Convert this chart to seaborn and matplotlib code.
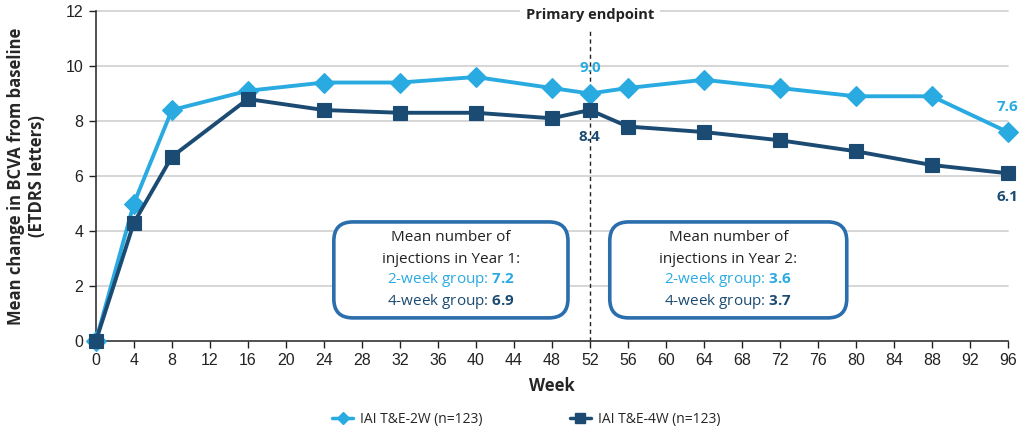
import matplotlib
matplotlib.use("Agg")
import matplotlib.pyplot as plt
import seaborn as sns
import pandas as pd
from matplotlib.patches import FancyBboxPatch
from matplotlib.lines import Line2D

weeks = [0, 4, 8, 16, 24, 32, 40, 48, 52, 56, 64, 72, 80, 88, 96]
vals_2w = [0.0, 5.0, 8.4, 9.1, 9.4, 9.4, 9.6, 9.2, 9.0, 9.2, 9.5, 9.2, 8.9, 8.9, 7.6]
vals_4w = [0.0, 4.3, 6.7, 8.8, 8.4, 8.3, 8.3, 8.1, 8.4, 7.8, 7.6, 7.3, 6.9, 6.4, 6.1]
series_names = ["IAI T&E-2W (n=123)", "IAI T&E-4W (n=123)"]
x_ticks = list(range(0, 97, 4))
y_ticks = list(range(0, 13, 2))

C_LIGHT = "#29abe2"
C_DARK = "#1b4b72"
C_BOX = "#2a6ead"

df = pd.DataFrame({
    "Week": weeks * 2,
    "Value": vals_2w + vals_4w,
    "Group": [series_names[0]] * len(weeks) + [series_names[1]] * len(weeks),
})

sns.set_theme(style="white")
plt.rcParams["font.family"] = ["Liberation Sans", "DejaVu Sans"]
plt.rcParams["mathtext.fontset"] = "custom"
plt.rcParams["mathtext.bf"] = "Open Sans:bold"
plt.rcParams["mathtext.rm"] = "Open Sans"

fig = plt.figure(figsize=(10.2, 4.33), dpi=100)
ax = fig.add_axes([0.094, 0.2125, 0.894, 0.762])

for y in y_ticks[1:]:
    ax.axhline(y, color="#cfcfcf", lw=1.2, zorder=0, xmin=0, xmax=1.0)

sns.lineplot(data=df, x="Week", y="Value", hue="Group", style="Group",
             palette={series_names[0]: C_LIGHT, series_names[1]: C_DARK},
             markers={series_names[0]: "D", series_names[1]: "s"},
             dashes=False, linewidth=2.8, markersize=10, markeredgewidth=0.8,
             legend=False, ax=ax, zorder=3, clip_on=False)
for ln in ax.lines:
    ln.set_markeredgecolor(ln.get_color())
    ln.set_clip_on(False)

ax.set_xlim(0, 96)
ax.set_ylim(0, 12)
ax.set_xticks(x_ticks)
ax.set_yticks(y_ticks)
ax.tick_params(axis="both", labelsize=11.5, colors="#222222", length=5, width=1,
               direction="out", bottom=True, left=True, pad=4)
for s in ["top", "right"]:
    ax.spines[s].set_visible(False)
for s in ["left", "bottom"]:
    ax.spines[s].set_color("#333333")
    ax.spines[s].set_linewidth(1.2)

ax.set_xlabel("Week", fontsize=12, fontweight="bold", family=["Open Sans", "DejaVu Sans"], labelpad=6)
ax.set_ylabel("Mean change in BCVA from baseline\n(ETDRS letters)", fontsize=12,
              fontweight="bold", family=["Open Sans", "DejaVu Sans"], labelpad=14)

# primary endpoint
ax.plot([52, 52], [0, 11.3], ls=(0, (3, 2.5)), color="#222222", lw=1, zorder=2)
ax.text(52, 11.85, "Primary endpoint", ha="center", va="center", fontsize=10.5,
        fontweight="bold", family=["Open Sans", "DejaVu Sans"], color="#222222",
        bbox=dict(boxstyle="square,pad=0.4", fc="white", ec="none"), zorder=4)

lab_font = ["Open Sans", "DejaVu Sans"]
ax.text(52, 9.93, "9.0", ha="center", va="center", fontsize=11, fontweight="bold",
        color=C_LIGHT, family=lab_font, zorder=5)
ax.text(52, 7.42, "8.4", ha="center", va="center", fontsize=11, fontweight="bold",
        color=C_DARK, family=lab_font, zorder=5)
ax.text(96, 8.5, "7.6", ha="center", va="center", fontsize=11, fontweight="bold",
        color=C_LIGHT, family=lab_font, zorder=5)
ax.text(96, 5.24, "6.1", ha="center", va="center", fontsize=11, fontweight="bold",
        color=C_DARK, family=lab_font, zorder=5)

# boxes
box_font = ["Open Sans", "DejaVu Sans"]
for x0, x1, year, v2, v4 in [(25.05, 49.7, "1", "7.2", "6.9"), (54.1, 79.05, "2", "3.6", "3.7")]:
    p = FancyBboxPatch((x0, 0.84), x1 - x0, 4.33 - 0.84,
                       boxstyle="round,pad=0,rounding_size=2.0",
                       mutation_aspect=0.345,
                       fc="white", ec=C_BOX, lw=2.6, zorder=6)
    ax.add_patch(p)
    cx = (x0 + x1) / 2
    ax.text(cx, 3.75, "Mean number of", ha="center", va="center", fontsize=11,
            color="#222222", family=box_font, zorder=7)
    ax.text(cx, 2.98, f"injections in Year {year}:", ha="center", va="center", fontsize=11,
            color="#222222", family=box_font, zorder=7)
    ax.text(cx, 2.22, f"2-week group: $\\bf{{{v2}}}$", ha="center", va="center",
            fontsize=11, color=C_LIGHT, family=box_font, zorder=7)
    ax.text(cx, 1.45, f"4-week group: $\\bf{{{v4}}}$", ha="center", va="center",
            fontsize=11, color=C_DARK, family=box_font, zorder=7)

handles = [Line2D([0], [0], color=C_LIGHT, marker="D", markersize=6.5, lw=2.5,
                  markeredgecolor=C_LIGHT),
           Line2D([0], [0], color=C_DARK, marker="s", markersize=6.5, lw=2.5,
                  markeredgecolor=C_DARK)]
fig.legend(handles, series_names, loc="center", bbox_to_anchor=(0.516, 0.032), ncol=2,
           frameon=False, columnspacing=6.3, handlelength=1.5,
           handletextpad=0.5, prop={"family": ["Open Sans", "DejaVu Sans"], "size": 10})

fig.savefig("out.png", dpi=100)
